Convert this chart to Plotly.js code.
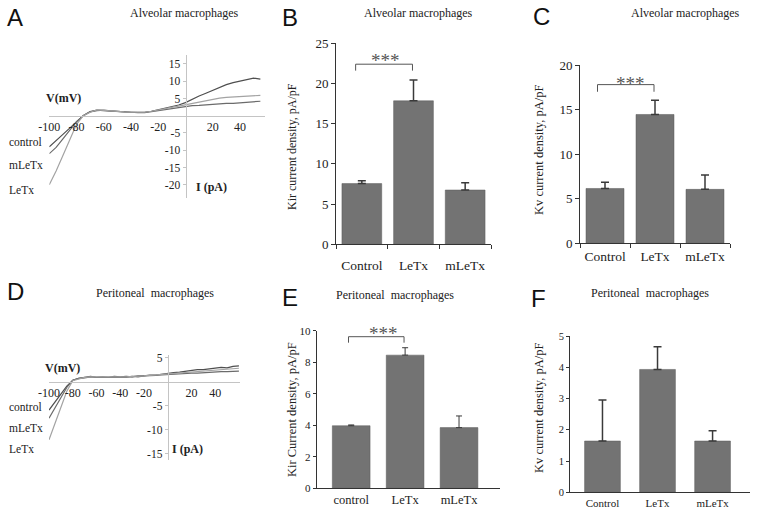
<!DOCTYPE html>
<html>
<head>
<meta charset="utf-8">
<script src="https://cdn.plot.ly/plotly-3.0.1.min.js"></script>
<style>
  html, body { margin: 0; padding: 0; background: #fff; }
  #chart { width: 758px; height: 516px; }
</style>
</head>
<body>
<div id="chart"></div>
<script>
// I-V curves, alveolar macrophages (panel A)
const voltsA = [-100,-95,-90,-85,-80,-75,-70,-65,-60,-55,-50,-45,-40,-35,-30,-25,-20,-15,-10,-5,0,5,10,15,20,25,30,35,40,45,50,55];
const controlA = [-9.0,-7.3,-5.4,-3.6,-1.7,0.1,1.2,1.6,1.5,1.3,1.2,1.1,1.0,0.9,1.0,1.3,1.7,2.1,2.6,3.1,3.8,4.8,5.7,6.5,7.4,8.2,9.0,9.6,10.1,10.6,10.9,10.6];
const mletxA = [-11.0,-9.2,-6.7,-4.2,-1.7,0.0,1.1,1.5,1.6,1.4,1.2,1.1,1.0,0.9,0.9,1.2,1.5,1.8,2.2,2.5,2.7,2.9,3.0,3.2,3.3,3.5,3.6,3.6,3.8,4.0,4.2,4.2];
const letxA = [-20.0,-16.0,-11.5,-6.8,-2.5,0.0,1.0,1.7,1.5,1.3,1.3,1.1,1.0,0.9,1.0,1.3,1.6,2.0,2.4,2.8,3.2,3.7,4.1,4.5,4.8,5.1,5.3,5.4,5.5,5.6,5.8,5.9];

// I-V curves, peritoneal macrophages (panel D)
const voltsD = [-100,-95,-90,-85,-80,-75,-70,-65,-60,-55,-50,-45,-40,-35,-30,-25,-20,-15,-10,-5,0,5,10,15,20,25,30,35,40,45,50,55,60];
const controlD = [-5.9,-4.2,-2.5,-0.9,0.3,0.7,0.9,1.1,0.9,1.0,0.9,1.1,1.0,1.1,1.0,1.2,1.2,1.4,1.4,1.6,1.7,1.9,2.0,2.2,2.3,2.5,2.5,2.7,2.8,3.0,2.9,3.2,3.3];
const mletxD = [-7.6,-5.5,-3.4,-1.2,0.3,0.7,0.8,1.0,0.9,0.9,1.0,0.9,1.0,0.9,1.1,1.0,1.2,1.2,1.3,1.4,1.5,1.5,1.6,1.7,1.8,1.8,1.9,2.0,2.0,2.1,2.1,2.2,2.2];
const letxD = [-12.1,-8.8,-5.4,-2.0,0.2,0.6,0.9,1.0,1.0,0.9,1.0,1.0,0.9,1.0,1.1,1.1,1.2,1.3,1.4,1.5,1.6,1.7,1.8,1.9,2.1,2.2,2.2,2.4,2.4,2.6,2.6,2.7,2.8];

const ivXTicks = [-100,-80,-60,-40,-20,20,40];
const ivXText = ['-100','-80','-60','-40','-20','20','40'];
const ivYTicksA = [-20,-15,-10,-5,5,10,15];
const ivYTextA = ['-20','-15','-10','-5','5','10','15'];
const ivYTicksD = [-15,-10,-5,5];
const ivYTextD = ['-15','-10','-5','5'];

// bar panels
const groups = ['Control','LeTx','mLeTx'];
const groupsE = ['control','LeTx','mLeTx'];
const kirAlv = [7.55, 17.85, 6.75];
const kirAlvErr = [0.35, 2.6, 0.9];
const kvAlv = [6.15, 14.45, 6.05];
const kvAlvErr = [0.7, 1.6, 1.6];
const kirPer = [3.97, 8.45, 3.85];
const kirPerErr = [0.05, 0.47, 0.74];
const kvPer = [1.64, 3.93, 1.64];
const kvPerErr = [1.31, 0.73, 0.33];

const W = 758, H = 516;
const px = x => x / W;
const py = y => 1 - y / H;
const SERIF = "'Liberation Serif', 'Times New Roman', serif";
const SANS = "'Liberation Sans', Arial, sans-serif";
const barColor = '#737373';
const lineCols = {control: '#4f4f4f', mletx: '#6b6b6b', letx: '#a3a3a3'};

function ivLine(x, y, col, xa, ya) {
  return {x: x, y: y, xaxis: xa, yaxis: ya, type: 'scatter', mode: 'lines',
          line: {color: col, width: 1.2}, hoverinfo: 'skip'};
}

function barTrace(cats, vals, errs, xa, ya, w, thick, cap) {
  return {x: cats, y: vals, xaxis: xa, yaxis: ya, type: 'bar', width: w,
          marker: {color: barColor, line: {color: '#5a5a5a', width: 0.5}},
          error_y: {type: 'data', symmetric: false, array: errs, arrayminus: [0,0,0],
                    color: '#3a3a3a', thickness: thick, width: cap}};
}

const data = [
  ivLine(voltsA, controlA, lineCols.control, 'x', 'y'),
  ivLine(voltsA, mletxA, lineCols.mletx, 'x', 'y'),
  ivLine(voltsA, letxA, lineCols.letx, 'x', 'y'),
  barTrace(groups, kirAlv, kirAlvErr, 'x2', 'y2', 0.77, 1.5, 4),
  barTrace(groups, kvAlv, kvAlvErr, 'x3', 'y3', 0.76, 1.5, 4),
  ivLine(voltsD, controlD, lineCols.control, 'x4', 'y4'),
  ivLine(voltsD, mletxD, lineCols.mletx, 'x4', 'y4'),
  ivLine(voltsD, letxD, lineCols.letx, 'x4', 'y4'),
  barTrace(groupsE, kirPer, kirPerErr, 'x5', 'y5', 0.70, 1, 3),
  barTrace(groups, kvPer, kvPerErr, 'x6', 'y6', 0.65, 1.5, 4)
];

const ivAxis = {showgrid: false, zeroline: false, showline: true, linecolor: '#c4c4c4',
                linewidth: 1, tickfont: {family: SERIF, size: 12, color: '#222'}};
const barX = {showgrid: false, zeroline: false, showline: true, linecolor: '#333',
              linewidth: 1, type: 'category', tickangle: 0,
              tickfont: {family: SERIF, size: 13.5, color: '#222'}};
const barY = {showgrid: false, zeroline: false, showline: true, linecolor: '#333',
              linewidth: 1, ticks: 'outside', ticklen: 4, tickcolor: '#333',
              tickfont: {family: SERIF, size: 13, color: '#222'}};

function txt(x, y, s, size, opts) {
  return Object.assign({xref: 'paper', yref: 'paper', x: px(x), y: py(y), text: s,
    showarrow: false, xanchor: 'center', yanchor: 'middle',
    font: {family: SERIF, size: size, color: '#222'}}, opts || {});
}

function letter(x, y, s) {
  return txt(x, y, s, 24, {font: {family: SANS, size: 24, color: '#111'}});
}

function stars(x, y) {
  return txt(x, y, '***', 19, {font: {family: SERIF, size: 19, color: '#555'}});
}

function bracket(xa, ya, x0, x1, yTop, yLeg) {
  const l = {color: '#555', width: 1};
  return [
    {type: 'line', xref: xa, yref: ya, x0: x0, x1: x1, y0: yTop, y1: yTop, line: l},
    {type: 'line', xref: xa, yref: ya, x0: x0, x1: x0, y0: yTop, y1: yLeg, line: l},
    {type: 'line', xref: xa, yref: ya, x0: x1, x1: x1, y0: yTop, y1: yLeg, line: l}
  ];
}

const annotations = [
  letter(15, 17, 'A'), letter(290, 17, 'B'), letter(541, 16, 'C'),
  letter(15, 291, 'D'), letter(290, 297, 'E'), letter(538, 298, 'F'),
  // panel titles
  txt(184, 13, 'Alveolar macrophages', 12),
  txt(418, 13, 'Alveolar macrophages', 12),
  txt(685, 13, 'Alveolar macrophages', 12),
  txt(155, 293, 'Peritoneal&nbsp; macrophages', 12),
  txt(395, 295, 'Peritoneal&nbsp; macrophages', 12),
  txt(650, 293, 'Peritoneal&nbsp; macrophages', 12),
  // IV labels
  txt(7, 142, 'control', 11.5, {xanchor: 'left'}),
  txt(7, 165, 'mLeTx', 11.5, {xanchor: 'left'}),
  txt(7, 190, 'LeTx', 11.5, {xanchor: 'left'}),
  txt(63, 98, '<b>V(mV)</b>', 12),
  txt(211, 187, '<b>I (pA)</b>', 12),
  txt(7, 407, 'control', 11.5, {xanchor: 'left'}),
  txt(7, 428, 'mLeTx', 11.5, {xanchor: 'left'}),
  txt(7, 449, 'LeTx', 11.5, {xanchor: 'left'}),
  txt(62, 368, '<b>V(mV)</b>', 12),
  txt(187, 449, '<b>I (pA)</b>', 12),
  // bar y titles
  txt(292, 147, 'Kir current density, pA/pF', 12, {textangle: -90}),
  txt(539, 150, 'Kv current density, pA/pF', 12.5, {textangle: -90}),
  txt(292, 410, 'Kir Current density, pA/pF', 12.5, {textangle: -90}),
  txt(539, 408, 'Kv current density, pA/pF', 12.5, {textangle: -90}),
  // significance stars
  stars(385, 61), stars(630, 83), stars(383, 333)
];

const shapes = [].concat(
  bracket('x2', 'y2', -0.12, 0.98, 22.4, 21.6),
  bracket('x3', 'y3', -0.15, 0.98, 17.8, 17.0),
  bracket('x5', 'y5', -0.05, 0.98, 9.62, 9.24)
);

const layout = {
  width: W, height: H,
  margin: {l: 0, r: 0, t: 0, b: 0},
  paper_bgcolor: '#fff', plot_bgcolor: 'rgba(0,0,0,0)',
  showlegend: false,
  font: {family: SERIF, color: '#222'},
  // A
  xaxis: Object.assign({}, ivAxis, {domain: [px(49.3), px(265)], range: [-100, 58.4],
    anchor: 'free', position: py(115.7), ticks: '', tickvals: ivXTicks, ticktext: ivXText}),
  yaxis: Object.assign({}, ivAxis, {domain: [py(198), py(55)], range: [-23.85, 17.6],
    anchor: 'free', position: px(185.5), ticks: 'outside', ticklen: 3, tickcolor: '#c4c4c4',
    tickvals: ivYTicksA, ticktext: ivYTextA, tickfont: {family: SERIF, size: 11.5, color: '#222'}}),
  // B
  xaxis2: Object.assign({}, barX, {domain: [px(336), px(491)], range: [-0.5, 2.5], anchor: 'y2',
    ticks: 'outside', tickson: 'boundaries', ticklen: 4, tickcolor: '#333', ticklabelstandoff: 8}),
  yaxis2: Object.assign({}, barY, {domain: [py(244.3), py(43.3)], range: [0, 25], dtick: 5, anchor: 'x2'}),
  // C
  xaxis3: Object.assign({}, barX, {domain: [px(580), px(730)], range: [-0.5, 2.5], anchor: 'y3',
    ticks: 'outside', tickson: 'boundaries', ticklen: 4, tickcolor: '#333'}),
  yaxis3: Object.assign({}, barY, {domain: [py(243.3), py(65)], range: [0, 20], dtick: 5, anchor: 'x3'}),
  // D
  xaxis4: Object.assign({}, ivAxis, {domain: [px(49), px(240)], range: [-100, 60.9],
    anchor: 'free', position: py(381.7), ticks: '', tickvals: ivXTicks, ticktext: ivXText}),
  yaxis4: Object.assign({}, ivAxis, {domain: [py(460), py(355)], range: [-16.3, 5.56],
    anchor: 'free', position: px(167.7), ticks: 'outside', ticklen: 3, tickcolor: '#c4c4c4',
    tickvals: ivYTicksD, ticktext: ivYTextD, tickfont: {family: SERIF, size: 11.5, color: '#222'}}),
  // E
  xaxis5: Object.assign({}, barX, {domain: [px(316.7), px(500)], range: [-0.64, 2.76], anchor: 'y5',
    ticks: '', tickfont: {family: SERIF, size: 12.5, color: '#222'}}),
  yaxis5: Object.assign({}, barY, {domain: [py(488.3), py(330.7)], range: [0, 10], dtick: 2, anchor: 'x5',
    ticklen: 3, tickfont: {family: SERIF, size: 11, color: '#222'}}),
  // F
  xaxis6: Object.assign({}, barX, {domain: [px(570), px(750)], range: [-0.59, 2.68], anchor: 'y6',
    ticks: '', tickfont: {family: SERIF, size: 11, color: '#222'}}),
  yaxis6: Object.assign({}, barY, {domain: [py(492.3), py(336)], range: [0, 5], dtick: 1, anchor: 'x6',
    ticklen: 3, tickfont: {family: SERIF, size: 10.5, color: '#222'}}),
  annotations: annotations,
  shapes: shapes
};

Plotly.newPlot('chart', data, layout, {staticPlot: true, displayModeBar: false});
</script>
</body>
</html>
